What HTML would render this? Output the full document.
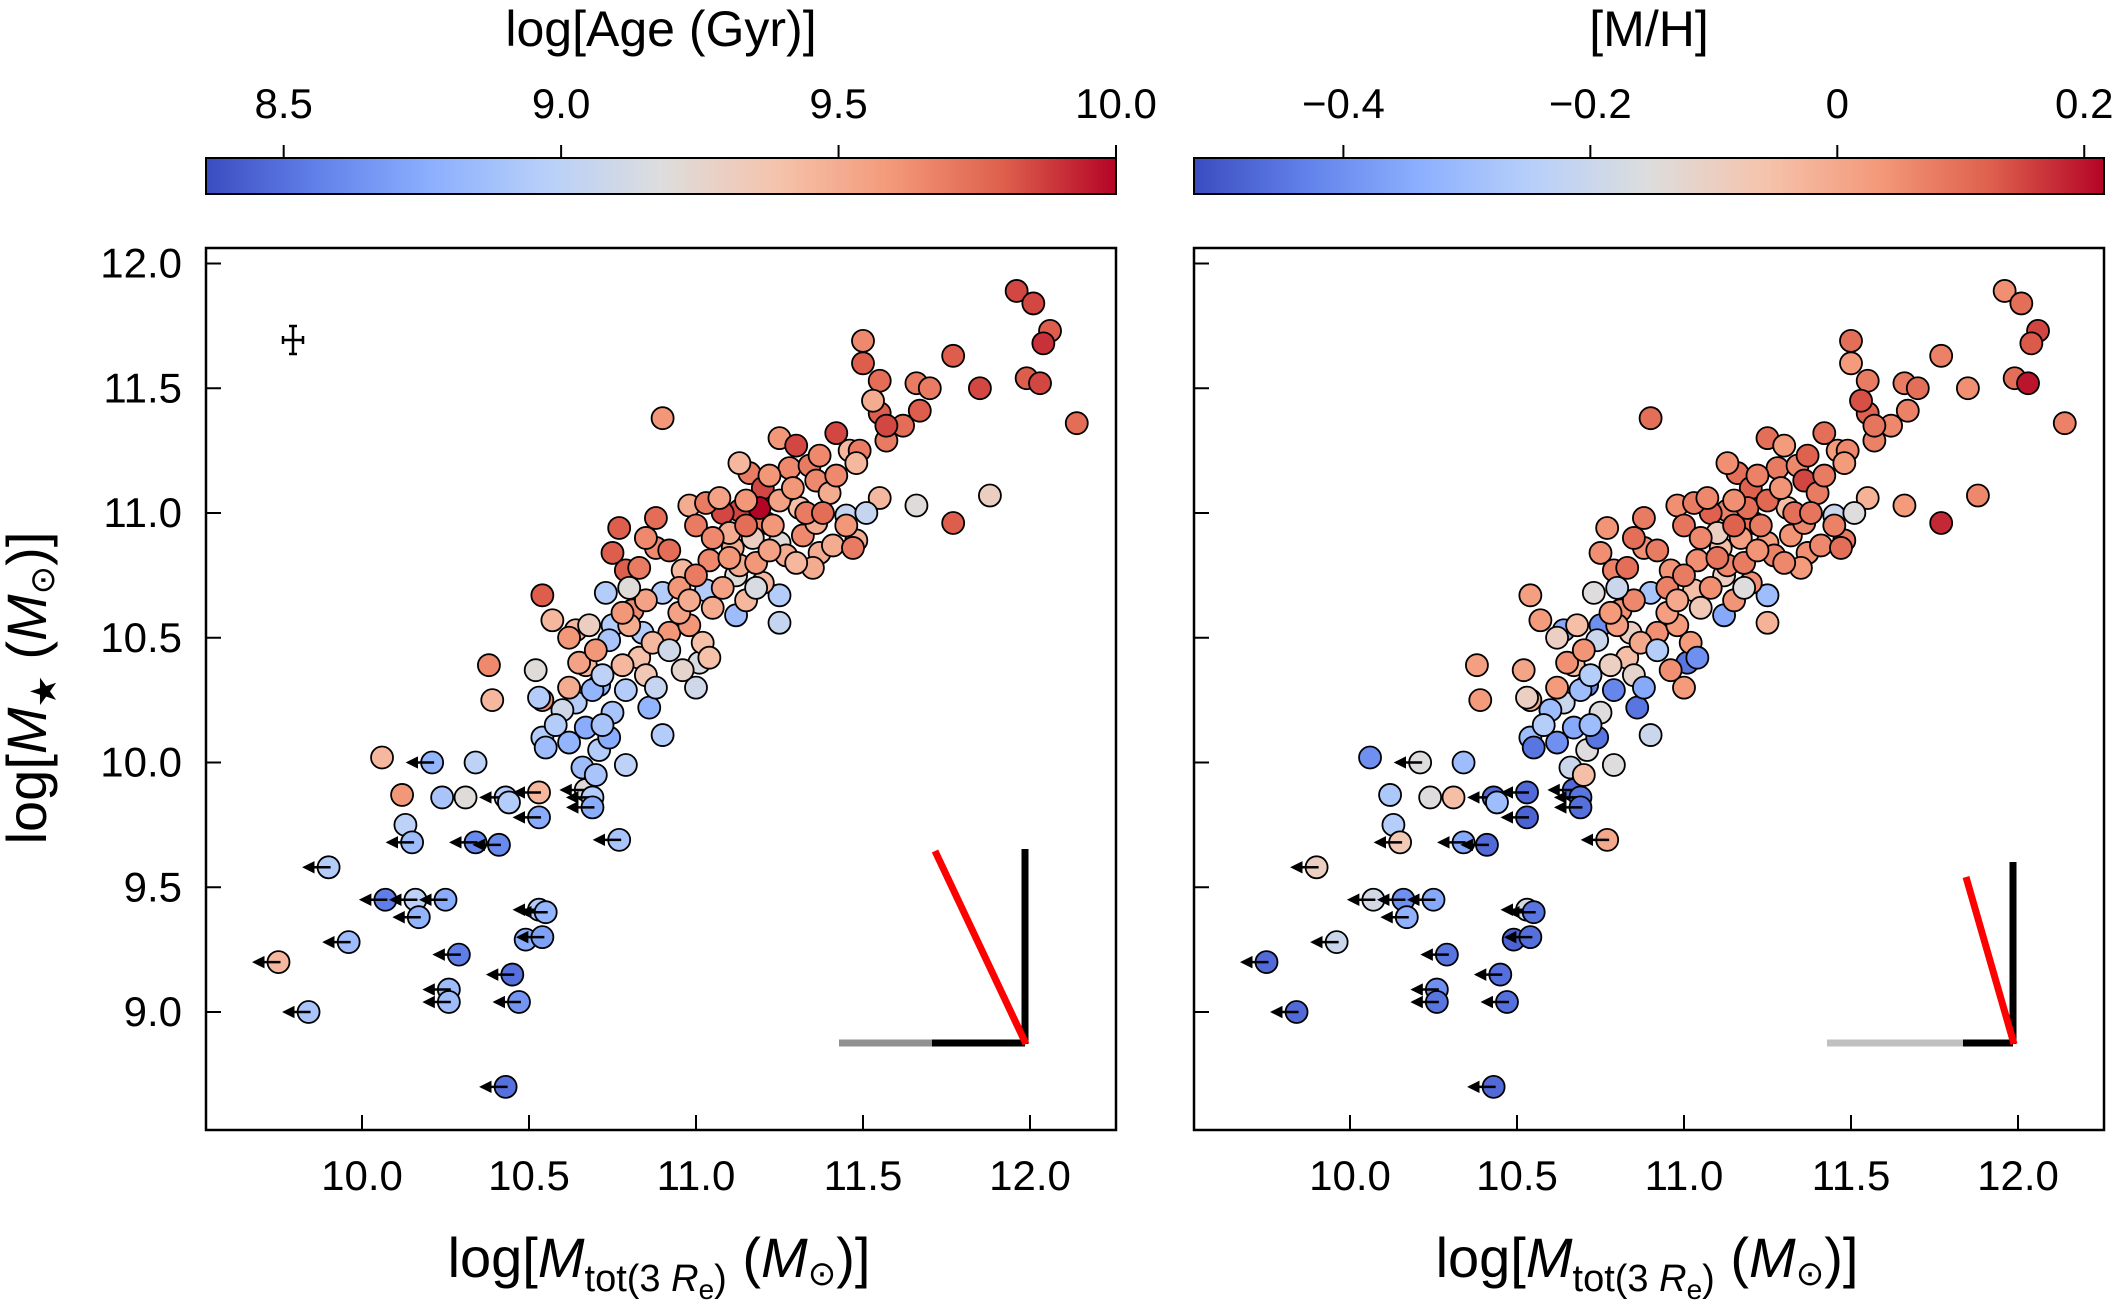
<!DOCTYPE html>
<html><head><meta charset="utf-8"><style>
html,body{margin:0;padding:0;background:#fff}
svg text{font-family:"Liberation Sans",sans-serif;fill:#000}
</style></head><body>
<svg id="fig" xmlns="http://www.w3.org/2000/svg" width="2115" height="1303" viewBox="0 0 2115 1303">
<defs>
<linearGradient id="cw" x1="0" x2="1" y1="0" y2="0">
<stop offset="0" stop-color="rgb(59,76,192)"/><stop offset="0.125" stop-color="rgb(98,130,234)"/>
<stop offset="0.25" stop-color="rgb(141,176,254)"/><stop offset="0.375" stop-color="rgb(184,208,249)"/>
<stop offset="0.5" stop-color="rgb(221,221,221)"/><stop offset="0.625" stop-color="rgb(245,196,173)"/>
<stop offset="0.75" stop-color="rgb(244,154,123)"/><stop offset="0.875" stop-color="rgb(222,96,77)"/>
<stop offset="1" stop-color="rgb(180,4,38)"/>
</linearGradient>
<marker id="ah" viewBox="0 0 10 10" refX="8" refY="5" markerWidth="5" markerHeight="5" orient="auto"><path d="M0,0 L10,5 L0,10 z" fill="#000"/></marker>
</defs>
<g id="left"></g>
<g id="right"></g>
</svg>
<script>
const xVals=[10.06,10.21,10.34,10.12,10.24,10.31,10.43,10.44,10.53,10.13,10.15,10.34,10.41,10.53,9.90,10.07,10.16,10.25,10.17,10.53,10.55,9.96,9.75,10.29,10.49,10.54,10.45,10.26,10.26,10.47,9.84,10.43,10.77,10.67,10.69,10.69,
10.54,10.57,10.64,10.38,10.39,10.52,10.54,10.53,10.54,10.55,10.67,10.71,10.79,10.66,10.70,10.64,10.60,10.71,10.79,10.74,10.62,10.67,10.75,10.81,10.84,10.92,10.98,10.86,10.90,11.00,11.01,10.96,10.83,10.87,11.02,11.04,10.74,10.78,10.69,10.75,10.73,10.90,11.03,11.12,11.25,11.25,11.12,
10.77,10.88,10.75,10.79,10.88,10.83,10.96,11.04,11.13,11.11,11.25,11.27,11.32,11.37,11.41,11.48,11.47,11.45,11.36,11.31,11.21,11.13,11.08,10.98,11.03,11.16,11.20,11.28,11.34,11.36,11.37,11.46,11.19,11.10,11.17,11.23,11.00,11.15,11.25,11.29,11.07,11.40,11.42,11.49,11.48,11.25,11.30,11.13,11.55,11.51,11.66,11.88,11.77,11.57,11.62,10.90,11.50,11.77,11.50,11.55,11.55,11.57,11.53,11.66,11.70,11.67,11.85,11.96,12.01,12.06,12.04,11.99,12.03,12.14,
10.95,11.05,11.15,11.20,11.35,10.85,10.92,11.18,
10.62,10.65,10.70,10.72,10.80,10.85,10.80,10.95,11.00,11.08,11.10,11.22,11.30,11.33,11.05,10.92,10.85,11.15,11.22,11.42,10.78,10.68,10.88,11.38,10.58,10.62,10.72,11.18,10.98,11.45];
const yVals=[10.02,10.00,10.00,9.87,9.86,9.86,9.86,9.84,9.88,9.75,9.68,9.68,9.67,9.78,9.58,9.45,9.45,9.45,9.38,9.41,9.40,9.28,9.20,9.23,9.29,9.30,9.15,9.09,9.04,9.04,9.00,8.70,9.69,9.89,9.86,9.82,
10.67,10.57,10.53,10.39,10.25,10.37,10.25,10.26,10.10,10.06,10.14,10.05,9.99,9.98,9.95,10.24,10.21,10.31,10.29,10.10,10.50,10.39,10.55,10.61,10.52,10.52,10.55,10.22,10.11,10.30,10.40,10.37,10.42,10.48,10.48,10.42,10.49,10.39,10.29,10.20,10.68,10.68,10.69,10.75,10.67,10.56,10.59,
10.94,10.98,10.84,10.77,10.86,10.78,10.77,10.81,10.79,10.86,10.88,10.83,10.91,10.84,10.87,10.89,10.86,10.99,10.96,11.02,10.96,11.01,11.00,11.03,11.04,11.16,11.10,11.18,11.19,11.13,11.23,11.25,11.02,10.92,10.90,10.95,10.95,11.05,11.05,11.10,11.06,11.08,11.32,11.25,11.20,11.30,11.27,11.20,11.06,11.00,11.03,11.07,10.96,11.29,11.35,11.38,11.69,11.63,11.60,11.53,11.40,11.35,11.45,11.52,11.50,11.41,11.50,11.89,11.84,11.73,11.68,11.54,11.52,11.36,
10.60,10.62,10.65,10.72,10.78,10.35,10.45,10.80,
10.30,10.40,10.45,10.35,10.55,10.65,10.70,10.70,10.75,10.70,10.82,10.85,10.80,11.00,10.90,10.85,10.90,10.95,11.15,11.15,10.60,10.55,10.30,11.00,10.15,10.08,10.15,10.70,10.65,10.95];
const ageVals=[9.45,8.80,9.00,9.60,8.90,9.20,8.95,8.95,9.45,9.00,8.85,8.60,8.60,8.75,8.95,8.55,9.00,8.75,8.80,8.95,8.80,8.85,9.45,8.55,8.75,8.70,8.50,8.85,8.85,8.65,8.90,8.50,8.90,9.20,8.95,8.75,
9.80,9.45,9.45,9.65,9.45,9.20,9.65,8.95,8.95,8.85,8.75,8.95,9.00,8.85,8.90,8.95,9.10,8.80,8.95,8.75,9.60,9.45,8.95,9.65,8.95,9.60,9.60,8.80,8.95,9.10,9.15,9.25,9.40,9.45,9.40,9.40,8.90,9.45,8.80,8.90,8.95,8.95,8.95,9.20,8.95,9.05,8.85,
9.80,9.75,9.80,9.80,9.65,9.70,9.45,9.65,9.50,9.50,9.20,9.50,9.65,9.50,9.50,9.50,9.70,9.05,9.50,9.40,9.70,9.85,9.85,9.50,9.70,9.70,9.85,9.65,9.70,9.65,9.65,9.45,10.00,9.50,9.30,9.60,9.70,9.60,9.55,9.60,9.55,9.50,9.85,9.70,9.45,9.60,9.85,9.45,9.45,9.05,9.20,9.30,9.80,9.70,9.75,9.60,9.65,9.80,9.80,9.75,9.80,9.85,9.50,9.70,9.70,9.80,9.85,9.85,9.85,9.80,9.90,9.80,9.85,9.75,
9.55,9.50,9.45,9.45,9.50,9.35,9.10,9.60,
9.50,9.55,9.60,9.00,9.50,9.55,9.20,9.60,9.70,9.55,9.60,9.55,9.45,9.70,9.65,9.75,9.65,9.75,9.60,9.65,9.60,9.30,9.05,9.75,8.95,8.80,8.90,9.15,9.50,9.60];
const mhVals=[-0.40,-0.15,-0.30,-0.27,-0.15,-0.05,-0.47,-0.30,-0.47,-0.25,-0.08,-0.35,-0.47,-0.48,-0.10,-0.18,-0.40,-0.35,-0.33,-0.18,-0.45,-0.20,-0.47,-0.45,-0.48,-0.46,-0.46,-0.40,-0.45,-0.46,-0.47,-0.47,0.00,-0.47,-0.45,-0.46,
0.02,0.03,-0.35,0.02,0.03,0.01,0.00,-0.10,-0.30,-0.45,-0.35,-0.15,-0.15,-0.20,-0.05,-0.20,-0.30,-0.42,-0.42,-0.45,-0.10,-0.05,-0.40,0.05,-0.10,0.05,0.03,-0.45,-0.20,0.03,-0.45,0.05,-0.05,0.00,0.03,-0.40,-0.20,-0.10,-0.30,-0.15,-0.15,-0.28,-0.05,-0.10,-0.30,-0.02,-0.35,
0.04,0.08,0.05,0.07,0.05,0.10,0.04,0.05,0.06,-0.05,0.02,0.07,0.04,0.05,0.06,0.08,0.10,-0.20,0.06,-0.05,0.10,0.07,0.12,0.05,0.08,0.10,0.12,0.08,0.06,0.15,0.12,0.03,0.10,-0.10,0.02,0.08,0.09,0.05,0.11,0.04,0.06,0.08,0.10,0.06,0.03,0.10,0.03,0.05,-0.02,-0.15,0.03,0.06,0.18,0.07,0.06,0.10,0.10,0.07,0.03,0.08,0.12,0.09,0.14,0.08,0.10,0.07,0.05,0.05,0.10,0.15,0.13,0.10,0.20,0.07,
0.02,-0.08,0.04,0.05,0.03,-0.12,-0.25,0.08,
0.03,0.05,0.04,-0.25,0.02,0.06,-0.20,0.07,0.08,0.05,0.09,0.04,0.06,0.10,0.06,0.08,0.10,0.12,0.07,0.08,0.03,-0.05,-0.35,0.09,-0.25,-0.40,-0.30,-0.15,0.00,0.07];
const limitVals=[0,1,0,0,0,0,1,0,1,0,1,1,1,1,1,1,1,1,1,1,1,1,1,1,0,1,1,1,1,1,1,1,1,1,1,1];
const ageTicks=[8.5,9.0,9.5,10.0], ageTickLabels=["8.5","9.0","9.5","10.0"];
const mhTicks=[-0.4,-0.2,0,0.2], mhTickLabels=["\u22120.4","\u22120.2","0","0.2"];
const xTicks=[10,10.5,11,11.5,12], xTickLabels=["10.0","10.5","11.0","11.5","12.0"];
const yTicks=[9,9.5,10,10.5,11,11.5,12], yTickLabels=["9.0","9.5","10.0","10.5","11.0","11.5","12.0"];

const NS="http://www.w3.org/2000/svg";
function mk(p,tag,at){const e=document.createElementNS(NS,tag);for(const k in at)e.setAttribute(k,at[k]);p.appendChild(e);return e;}
const stops=[[59,76,192],[98,130,234],[141,176,254],[184,208,249],[221,221,221],[245,196,173],[244,154,123],[222,96,77],[180,4,38]];
function cw(t){t=Math.max(0,Math.min(1,t));const f=t*8,i=Math.min(7,Math.floor(f)),u=f-i;const a=stops[i],b=stops[i+1];return `rgb(${a.map((v,k)=>Math.round(v+(b[k]-v)*u)).join(',')})`;}
const yS=v=>1012-(v-9)*249.5;
const PX0=206, PW=910, PY0=248, PY1=1130;

function panel(g,off,cmin,cmax,cvals,cticks,clabels,title,showY,orient){
  const xS=v=>362+off+(v-10)*334;
  const cS=v=>PX0+off+(v-cmin)/(cmax-cmin)*PW;
  const t=mk(g,'text',{x:PX0+off+PW/2,y:46,'font-size':50,'text-anchor':'middle'});t.textContent=title;
  
  const cb=mk(g,'rect',{x:PX0+off,y:158,width:PW,height:36,fill:'url(#cw)',stroke:'#000','stroke-width':2});
  
  cticks.forEach((v,i)=>{const x=cS(v);mk(g,'line',{x1:x,x2:x,y1:145,y2:158,stroke:'#000','stroke-width':2});
    const l=mk(g,'text',{x:x,y:118,'font-size':42,'text-anchor':'middle'});l.textContent=clabels[i];
    });
  const fr=mk(g,'rect',{x:PX0+off,y:PY0,width:PW,height:PY1-PY0,fill:'none',stroke:'#000','stroke-width':2.5});
  
  xTicks.forEach((v,i)=>{const x=xS(v);mk(g,'line',{x1:x,x2:x,y1:PY1,y2:PY1-15,stroke:'#000','stroke-width':2});
    const l=mk(g,'text',{x:x,y:1190,'font-size':42,'text-anchor':'middle'});l.textContent=xTickLabels[i];
    });
  yTicks.forEach((v,i)=>{const y=yS(v);mk(g,'line',{x1:PX0+off,x2:PX0+off+15,y1:y,y2:y,stroke:'#000','stroke-width':2});
    if(showY){const l=mk(g,'text',{x:182,y:y+14,'font-size':42,'text-anchor':'end'});l.textContent=yTickLabels[i];
    }});
  const xt=mk(g,'text',{x:PX0+off+PW/2-2,y:1277,'font-size':56,'text-anchor':'middle'});
  xt.innerHTML='log[<tspan font-style="italic">M</tspan><tspan font-size="38" dy="14">tot(3 <tspan font-style="italic">R</tspan><tspan font-size="28" dy="8">e</tspan><tspan dy="-8">)</tspan></tspan><tspan dy="-14"> (<tspan font-style="italic">M</tspan><tspan font-size="34" dy="8">\u2299</tspan><tspan dy="-8">)]</tspan></tspan>';
  
  const pg=mk(g,'g',{});
  for(let i=0;i<xVals.length;i++){
    const cx=xS(xVals[i]),cy=yS(yVals[i]);
    const c=mk(pg,'circle',{cx:cx,cy:cy,r:11,fill:cw((cvals[i]-cmin)/(cmax-cmin)),stroke:'#000','stroke-width':1.8});
    
    
    if(limitVals[i]){const a=mk(pg,'line',{x1:cx+2,y1:cy,x2:cx-24,y2:cy,stroke:'#000','stroke-width':2.5,'marker-end':'url(#ah)'});
      
      }
  }
  const o=orient;
  mk(g,'line',{x1:o.g0,x2:o.b0,y1:1043,y2:1043,stroke:o.gc,'stroke-width':7});
  mk(g,'line',{x1:o.b0,x2:o.vx,y1:1043,y2:1043,stroke:'#000','stroke-width':7});
  mk(g,'line',{x1:o.vx,x2:o.vx,y1:o.vy,y2:1044,stroke:'#000','stroke-width':7});
  const r=mk(g,'line',{x1:o.rx,y1:o.ry,x2:o.vx+1,y2:1044,stroke:'#ff0000','stroke-width':7});
  
}
panel(document.getElementById('left'),0,8.36,10.0,ageVals,ageTicks,ageTickLabels,'log[Age (Gyr)]',true,
  {g0:839,b0:932,vx:1025,vy:849,rx:935,ry:851,gc:'#919191'});
panel(document.getElementById('right'),988,-0.521,0.216,mhVals,mhTicks,mhTickLabels,'[M/H]',false,
  {g0:1827,b0:1963,vx:2013,vy:862,rx:1966,ry:877,gc:'#c0c0c0'});
const L=document.getElementById('left');
const ec=mk(L,'path',{d:'M283,340 H303 M293,326 V354 M283,336 V344 M303,336 V344 M289,326 H297 M289,354 H297',stroke:'#000','stroke-width':2.5,fill:'none'});

const yt=mk(L,'text',{transform:'translate(46,688) rotate(-90)','font-size':56,'text-anchor':'middle'});
yt.innerHTML='log[<tspan font-style="italic">M</tspan><tspan font-size="36" dy="10">\u2605</tspan><tspan dy="-10"> (<tspan font-style="italic">M</tspan><tspan font-size="34" dy="8">\u2299</tspan><tspan dy="-8">)]</tspan></tspan>';

</script>
</body></html>
